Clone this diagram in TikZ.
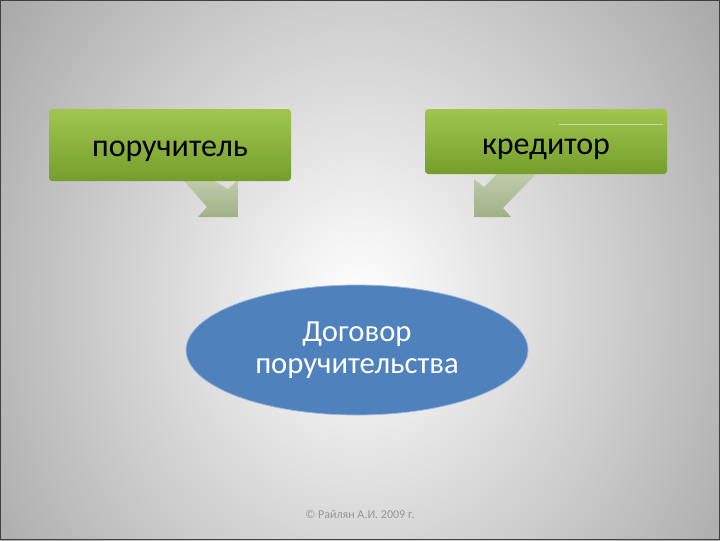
\documentclass[tikz,border=0pt]{standalone}
\usepackage{fontspec}
\setmainfont{Carlito}
\usetikzlibrary{calc,positioning,shapes.geometric}

\definecolor{bgedge}{RGB}{145,145,145}
\definecolor{boxtop}{RGB}{160,198,78}
\definecolor{boxbot}{RGB}{116,158,44}
\definecolor{arrtop}{RGB}{192,203,172}
\definecolor{arrbot}{RGB}{160,177,134}
\definecolor{ellblue}{RGB}{79,129,189}
\definecolor{copygray}{RGB}{150,150,150}

\tikzset{
	greenbox/.style={rectangle, rounded corners=2.5pt, top color=boxtop, bottom color=boxbot,
		minimum width=181.5pt, text=black, font=\fontsize{24}{26}\selectfont, inner sep=0pt,
		text depth=0pt},
	blockarrow/.style={top color=arrtop, bottom color=arrbot, draw=none},
	contract/.style={ellipse, fill=ellblue, draw=ellblue!55!white, line width=0.6pt,
		minimum width=256.5pt, minimum height=97.5pt, inner sep=0pt, text=white,
		align=center, font=\fontsize{23}{24}\selectfont}
}

\begin{document}
\begin{tikzpicture}[x=0.75pt,y=0.75pt,yscale=-1,xscale=1]
			\useasboundingbox (0,0) rectangle (720,540);

			%Shape: Background [id:bg]
			\begin{scope}
				\clip (0,0) rectangle (720,540);
				\shade [inner color=white, outer color=bgedge] (360,300) ellipse (565 and 650);
			\end{scope}
			\draw [black!75, line width=0.75pt] (0.5,0.5) rectangle (719.5,539.5);

			%Shape: Block Arrow [id:arrL]
			\path [blockarrow] (184,181) -- (207,207) -- (198,217) -- (238,217) -- (238,180) -- (228,189) -- (214,181) -- cycle;
			%Shape: Block Arrow [id:arrR]
			\path [blockarrow] (497,174) -- (484,187) -- (474,179) -- (474,217) -- (511,217) -- (503,208) -- (536,174) -- cycle;

			%Shape: Rectangle [id:guarantor]
			\node [greenbox, minimum height=54pt, text height=16.5pt] (guarantor) at (170,145) {поручитель};
			%Shape: Rectangle [id:creditor]
			\node [greenbox, minimum height=48.75pt, text height=19.5pt] (creditor) at (546,141.5) {кредитор};
			%Straight Lines [id:hilite]
			\draw [white!45!boxtop, line width=0.5pt] ($(creditor.north east)+(-4,16)$) -- ($(creditor.north east)+(-108,16)$);

			%Shape: Ellipse [id:contract]
			\node [contract] (contract) at (357,350) {Договор\\поручительства};

			% Text Node
			\node [text=copygray, font=\fontsize{9}{10}\selectfont, inner sep=0pt] (copyright) at (360,514) {© Райлян А.И. 2009 г.};

		\end{tikzpicture}
\end{document}
